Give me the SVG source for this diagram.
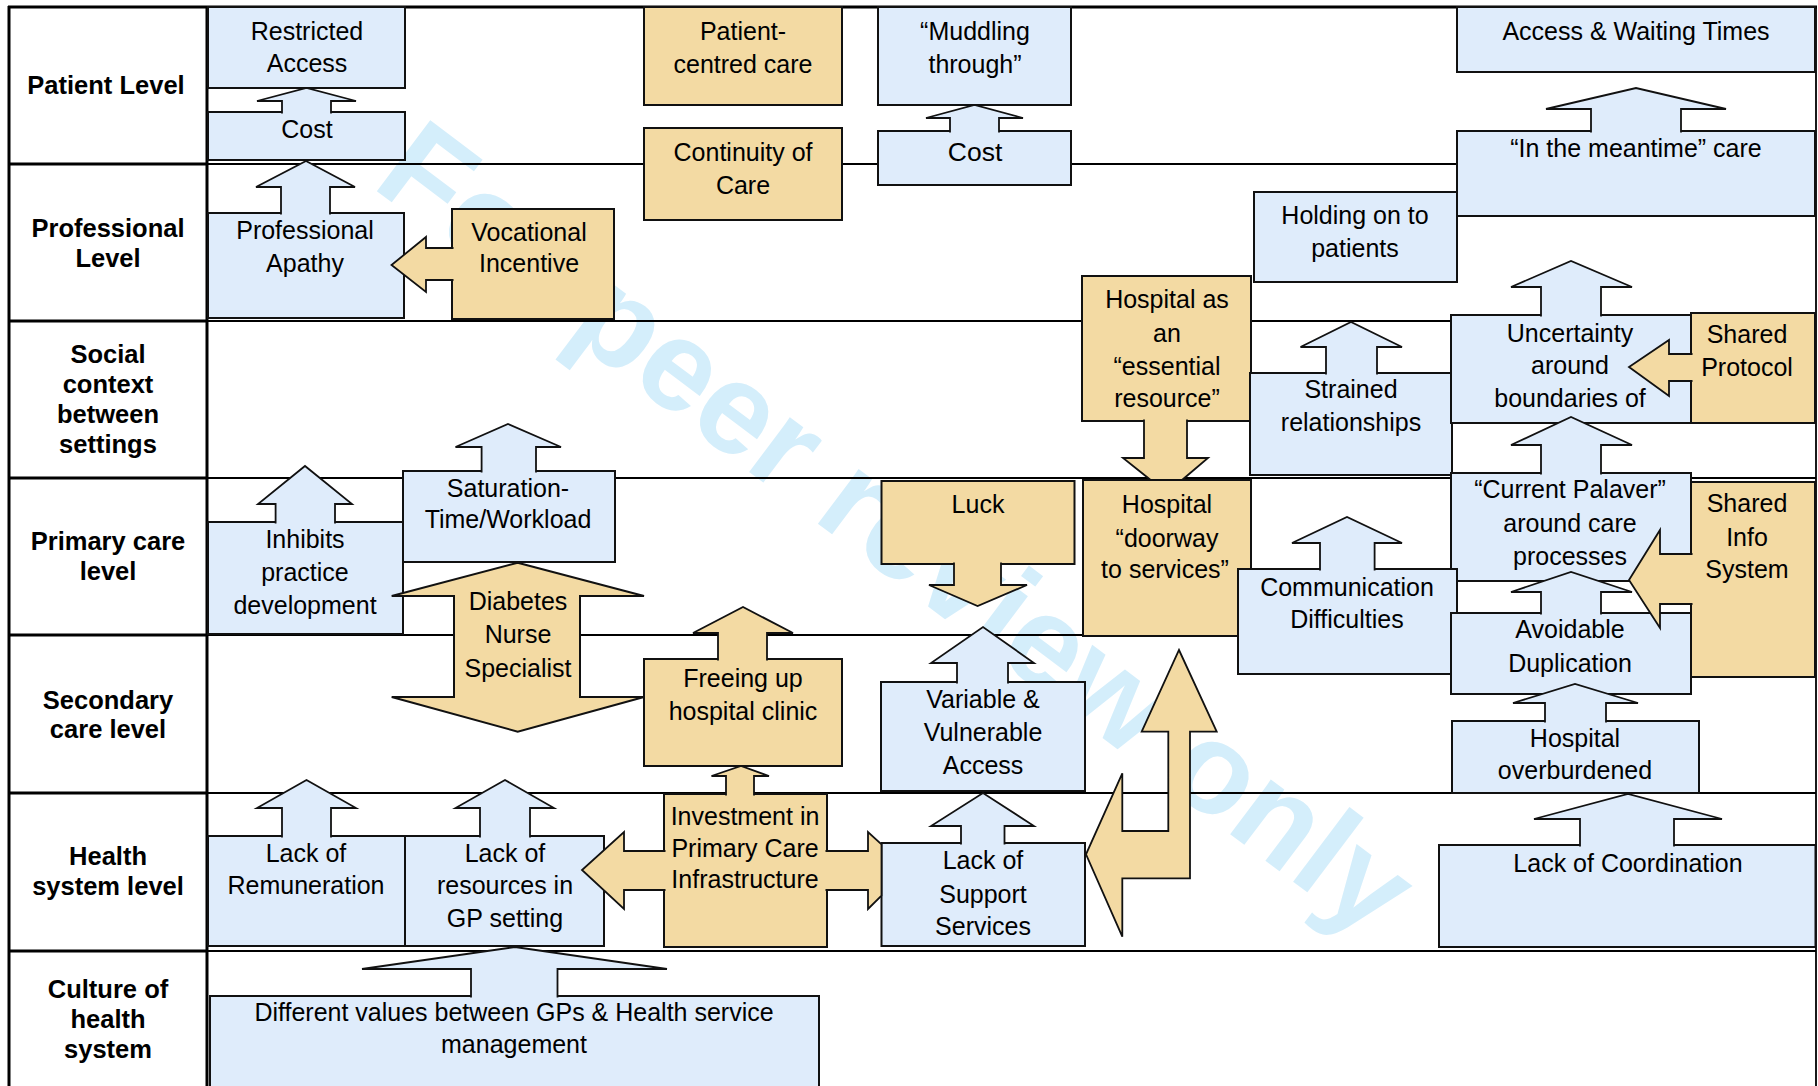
<svg xmlns="http://www.w3.org/2000/svg" width="1818" height="1086" viewBox="0 0 1818 1086">
<style>
.bx{fill:#DFECFB;stroke:#111;stroke-width:2}
.tx{fill:#F3DAA3;stroke:#111;stroke-width:2}
.ab{fill:#DFECFB;stroke:#111;stroke-width:1.8;stroke-linejoin:miter}
.at{fill:#F3DAA3;stroke:#111;stroke-width:1.8;stroke-linejoin:miter}
text{font-family:"Liberation Sans",Arial,Helvetica,sans-serif;fill:#000}
.n{font-size:25px;text-anchor:middle}
.l{font-size:25.5px;font-weight:bold;text-anchor:middle}
.wm{font-size:129px;font-weight:bold;fill:#D4EEFB}
.thick{stroke:#000;stroke-width:3}
.thin{stroke:#000;stroke-width:1.8}
</style>
<rect width="1818" height="1086" fill="#fff"/>
<text class="wm" x="370" y="186" transform="rotate(37 370 186)">For peer review only</text>
<g id="grid">
<line class="thick" x1="8" y1="7" x2="1817" y2="7"/>
<line class="thick" x1="9" y1="6" x2="9" y2="1086"/>
<line class="thick" x1="207" y1="6" x2="207" y2="1086"/>
<line class="thin" x1="1816" y1="6" x2="1816" y2="1086"/>
<line class="thick" x1="9" y1="164" x2="207" y2="164"/>
<line class="thick" x1="9" y1="321" x2="207" y2="321"/>
<line class="thick" x1="9" y1="478" x2="207" y2="478"/>
<line class="thick" x1="9" y1="635" x2="207" y2="635"/>
<line class="thick" x1="9" y1="793" x2="207" y2="793"/>
<line class="thick" x1="9" y1="951" x2="207" y2="951"/>
<line class="thin" x1="207" y1="164" x2="1816" y2="164"/>
<line class="thin" x1="207" y1="321" x2="1816" y2="321"/>
<line class="thin" x1="207" y1="478" x2="1816" y2="478"/>
<line class="thin" x1="207" y1="635" x2="1816" y2="635"/>
<line class="thin" x1="207" y1="793" x2="1816" y2="793"/>
<line class="thin" x1="207" y1="951" x2="1816" y2="951"/>
</g>
<g id="labels">
<text class="l" x="106" y="94">Patient Level</text>
<text class="l"><tspan x="108" y="237">Professional</tspan><tspan x="108" y="267">Level</tspan></text>
<text class="l"><tspan x="108" y="363">Social</tspan><tspan x="108" y="393">context</tspan><tspan x="108" y="423">between</tspan><tspan x="108" y="453">settings</tspan></text>
<text class="l"><tspan x="108" y="550">Primary care</tspan><tspan x="108" y="580">level</tspan></text>
<text class="l"><tspan x="108" y="709">Secondary</tspan><tspan x="108" y="738">care level</tspan></text>
<text class="l"><tspan x="108" y="865">Health</tspan><tspan x="108" y="895">system level</tspan></text>
<text class="l"><tspan x="108" y="998">Culture of</tspan><tspan x="108" y="1028">health</tspan><tspan x="108" y="1058">system</tspan></text>
</g>
<g id="n-restricted-access"><rect class="bx" x="208" y="7" width="197" height="81"/><text class="n"><tspan x="307" y="40">Restricted</tspan><tspan x="307" y="72">Access</tspan></text></g>
<g id="n-cost-1"><rect class="bx" x="208" y="112" width="197" height="48"/><text class="n" x="307" y="138">Cost</text></g>
<g id="n-professional-apathy"><rect class="bx" x="208" y="213" width="196" height="105"/><text class="n"><tspan x="305" y="239">Professional</tspan><tspan x="305" y="272">Apathy</tspan></text></g>
<g id="n-vocational-incentive"><rect class="tx" x="452" y="209" width="162" height="110"/><text class="n"><tspan x="529" y="241">Vocational</tspan><tspan x="529" y="272">Incentive</tspan></text></g>
<g id="n-patient-centred"><rect class="tx" x="644" y="7" width="198" height="98"/><text class="n"><tspan x="743" y="40">Patient-</tspan><tspan x="743" y="73">centred care</tspan></text></g>
<g id="n-continuity"><rect class="tx" x="644" y="128" width="198" height="92"/><text class="n"><tspan x="743" y="161">Continuity of</tspan><tspan x="743" y="194">Care</tspan></text></g>
<g id="n-muddling"><rect class="bx" x="878" y="7" width="193" height="98"/><text class="n"><tspan x="975" y="40">“Muddling</tspan><tspan x="975" y="73">through”</tspan></text></g>
<g id="n-cost-2"><rect class="bx" x="878" y="131" width="193" height="54"/><text class="n" x="975" y="161" style="font-size:26.5px">Cost</text></g>
<g id="n-access-waiting"><rect class="bx" x="1457" y="7" width="358" height="65"/><text class="n" x="1636" y="40">Access &amp; Waiting Times</text></g>
<g id="n-meantime"><rect class="bx" x="1457" y="131" width="358" height="85"/><text class="n" x="1636" y="157">“In the meantime” care</text></g>
<g id="n-holding"><rect class="bx" x="1254" y="192" width="203" height="90"/><text class="n"><tspan x="1355" y="224">Holding on to</tspan><tspan x="1355" y="257">patients</tspan></text></g>
<g id="n-hospital-essential"><rect class="tx" x="1082" y="276" width="169" height="145"/><text class="n"><tspan x="1167" y="308">Hospital as</tspan><tspan x="1167" y="342">an</tspan><tspan x="1167" y="375">“essential</tspan><tspan x="1167" y="407">resource”</tspan></text></g>
<g id="n-strained"><rect class="bx" x="1250" y="373" width="202" height="102"/><text class="n"><tspan x="1351" y="398">Strained</tspan><tspan x="1351" y="431">relationships</tspan></text></g>
<g id="n-uncertainty"><rect class="bx" x="1451" y="315" width="240" height="108"/><text class="n"><tspan x="1570" y="342">Uncertainty</tspan><tspan x="1570" y="374">around</tspan><tspan x="1570" y="407">boundaries of</tspan></text></g>
<g id="n-shared-protocol"><rect class="tx" x="1691" y="313" width="124" height="110"/><text class="n"><tspan x="1747" y="343">Shared</tspan><tspan x="1747" y="376">Protocol</tspan></text></g>
<g id="n-inhibits"><rect class="bx" x="208" y="522" width="195" height="112"/><text class="n"><tspan x="305" y="548">Inhibits</tspan><tspan x="305" y="581">practice</tspan><tspan x="305" y="614">development</tspan></text></g>
<g id="n-saturation"><rect class="bx" x="403" y="471" width="212" height="91"/><text class="n"><tspan x="508" y="497">Saturation-</tspan><tspan x="508" y="528">Time/Workload</tspan></text></g>
<g id="n-diabetes-nurse"><path class="tx" d="M517.7,562.7 L644,596 H580 V697 H644 L517.7,731.7 L391.7,697 H454 V596 H391.7 Z"/><text class="n"><tspan x="518" y="610">Diabetes</tspan><tspan x="518" y="643">Nurse</tspan><tspan x="518" y="677">Specialist</tspan></text></g>
<g id="n-luck"><rect class="tx" x="881.5" y="481" width="193" height="83"/><text class="n" x="978" y="513">Luck</text></g>
<g id="n-hospital-doorway"><rect class="tx" x="1083" y="480" width="168" height="156"/><text class="n"><tspan x="1167" y="513">Hospital</tspan><tspan x="1167" y="547">“doorway</tspan><tspan x="1165" y="578">to services”</tspan></text></g>
<g id="n-current-palaver"><rect class="bx" x="1451" y="473" width="240" height="108"/><text class="n"><tspan x="1570" y="498">“Current Palaver”</tspan><tspan x="1570" y="532">around care</tspan><tspan x="1570" y="565">processes</tspan></text></g>
<g id="n-communication"><rect class="bx" x="1238" y="569" width="219" height="105"/><text class="n"><tspan x="1347" y="596">Communication</tspan><tspan x="1347" y="628">Difficulties</tspan></text></g>
<g id="n-avoidable"><rect class="bx" x="1451" y="613" width="240" height="81"/><text class="n"><tspan x="1570" y="638">Avoidable</tspan><tspan x="1570" y="672">Duplication</tspan></text></g>
<g id="n-shared-info"><rect class="tx" x="1691" y="482" width="124" height="195"/><text class="n"><tspan x="1747" y="512">Shared</tspan><tspan x="1747" y="546">Info</tspan><tspan x="1747" y="578">System</tspan></text></g>
<g id="n-freeing"><rect class="tx" x="644" y="659" width="198" height="107"/><text class="n"><tspan x="743" y="687">Freeing up</tspan><tspan x="743" y="720">hospital clinic</tspan></text></g>
<g id="n-variable"><rect class="bx" x="881" y="682" width="204" height="109"/><text class="n"><tspan x="983" y="708">Variable &amp;</tspan><tspan x="983" y="741">Vulnerable</tspan><tspan x="983" y="774">Access</tspan></text></g>
<g id="n-hospital-overburdened"><rect class="bx" x="1452" y="721" width="247" height="72"/><text class="n"><tspan x="1575" y="747">Hospital</tspan><tspan x="1575" y="779">overburdened</tspan></text></g>
<g id="n-lack-remuneration"><rect class="bx" x="208" y="836" width="197" height="110"/><text class="n"><tspan x="306" y="862">Lack of</tspan><tspan x="306" y="894">Remuneration</tspan></text></g>
<g id="n-lack-resources"><rect class="bx" x="405" y="836" width="199" height="110"/><text class="n"><tspan x="505" y="862">Lack of</tspan><tspan x="505" y="894">resources in</tspan><tspan x="505" y="927">GP setting</tspan></text></g>
<g id="n-investment"><rect class="tx" x="664" y="794" width="163" height="153"/><text class="n"><tspan x="745" y="825">Investment in</tspan><tspan x="745" y="857">Primary Care</tspan><tspan x="745" y="888">Infrastructure</tspan></text></g>
<g id="n-lack-support"><rect class="bx" x="881.5" y="843" width="203.5" height="103"/><text class="n"><tspan x="983" y="869">Lack of</tspan><tspan x="983" y="903">Support</tspan><tspan x="983" y="935">Services</tspan></text></g>
<g id="n-lack-coordination"><rect class="bx" x="1439" y="845" width="376.5" height="102"/><text class="n" x="1628" y="872">Lack of Coordination</text></g>
<g id="n-different-values"><rect class="bx" x="210" y="996" width="609" height="100"/><text class="n"><tspan x="514" y="1021">Different values between GPs &amp; Health service</tspan><tspan x="514" y="1053">management</tspan></text></g>
<g id="connectors">
<path class="ab" d="M282,113.5 V101 H257 L306.5,88 L356,101 H331 V113.5"/>
<path class="ab" d="M281,214.5 V187 H256 L306,161 L355,187 H330 V214.5"/>
<path class="at" d="M453.5,248 H426 V237 L391.5,265 L426,292 V280 H453.5"/>
<path class="ab" d="M950,132.5 V118 H926 L974.5,105 L1023,118 H999 V132.5"/>
<path class="ab" d="M1591,132.5 V109 H1546 L1636,88 L1726,109 H1681 V132.5"/>
<path class="ab" d="M1541,316.5 V287 H1511 L1571,261 L1632,287 H1601 V316.5"/>
<path class="ab" d="M1326,374.5 V347 H1300.5 L1351,322 L1402,347 H1377 V374.5"/>
<path class="at" d="M1692.5,354 H1669 V340 L1629,367 L1669,396 V381 H1692.5"/>
<path class="at" d="M1144,419.5 V458 H1123 L1150.7,480 H1182 L1208,458 H1187 V419.5"/>
<path class="ab" d="M275.6,523.5 V504 H258 L305,466 L352,504 H335 V523.5"/>
<path class="ab" d="M481.6,472.5 V447 H455.5 L508,424 L561,447 H536 V472.5"/>
<path class="at" d="M954,562.5 V585 H929 L977.6,606 L1027,585 H1001 V562.5"/>
<path class="ab" d="M1320,570.5 V543 H1292 L1347,517 L1402,543 H1374.6 V570.5"/>
<path class="ab" d="M1541,474.5 V445 H1511 L1571,417 L1632,445 H1601 V474.5"/>
<path class="ab" d="M1541,614.5 V592 H1511 L1571,572 L1632,592 H1601 V614.5"/>
<path class="at" d="M1692.5,554 H1660 V530 L1629,580 L1660,628 V604 H1692.5"/>
<path class="at" d="M718,660.5 V633 H693 L743,607 L793,633 H767 V660.5"/>
<path class="ab" d="M957,683.5 V663 H931 L983,627 L1034,663 H1008 V683.5"/>
<path class="ab" d="M1545,722.5 V703 H1513 L1575,684 L1638,703 H1606 V722.5"/>
<path class="ab" d="M282,837.5 V808 H257 L306.5,780 L356,808 H331 V837.5"/>
<path class="ab" d="M480,837.5 V808 H455.5 L505,780 L554,808 H530 V837.5"/>
<path class="at" d="M726,795.5 V776 H711.5 L741,766 L769,776 H754 V795.5"/>
<path class="at" d="M665.5,851 H624 V832 L582,870 L624,909 V890 H665.5"/>
<path class="at" d="M825.5,851 H868 V832 L881.5,844.4 V895.6 L868,909 V890 H825.5"/>
<path class="ab" d="M961,844.5 V826 H931 L983,793 L1034,826 H1004.5 V844.5"/>
<path class="at" d="M1179,650 L1216.7,731.7 H1190 V878.3 H1122.3 V936.7 L1086,854.3 L1122.3,773.3 V831 H1168.3 V731.7 H1141.7 Z"/>
<path class="ab" d="M1580,846.5 V819 H1534 L1628,794 L1722,819 H1674 V846.5"/>
<path class="ab" d="M471,997.5 V969 H362 L515,947 L667,969 H557.5 V997.5"/>
</g>
</svg>
